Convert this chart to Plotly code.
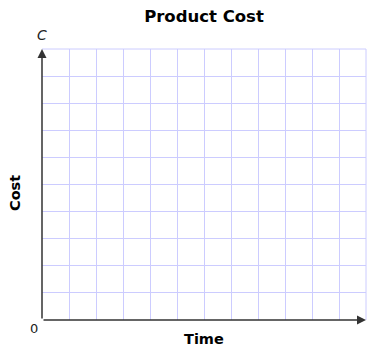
import plotly.graph_objects as go

title_text = "Product Cost"
x_label = "Time"
y_label = "Cost"
y_axis_symbol = "C"
origin_label = "0"
x_ticks = list(range(0, 13))
y_ticks = list(range(0, 11))

W, H = 374, 348
L, R, T, B = 42, 8, 49, 28
pw, ph = W - L - R, H - T - B

def px_x(p):
    return (p - L) / pw

def px_y(p):
    return (H - B - p) / ph

fig = go.Figure()
fig.add_trace(go.Scatter(x=[x_ticks[0], x_ticks[-1]], y=[y_ticks[0], y_ticks[-1]],
                         mode="markers", marker=dict(opacity=0), hoverinfo="skip", showlegend=False))

grid_col = "#ccccff"
font_family = "DejaVu Sans, Verdana, sans-serif"
axis_common = dict(showgrid=True, gridcolor=grid_col, gridwidth=1, zeroline=False,
                   showticklabels=False, ticks="", showline=False)
fig.update_layout(
    width=W, height=H, margin=dict(l=L, r=R, t=T, b=B),
    paper_bgcolor="white", plot_bgcolor="white",
    font=dict(family=font_family, color="black"),
    title=dict(text="<b>" + title_text + "</b>", x=(204 / W), xanchor="center",
               y=1 - 16 / H, yanchor="middle", font=dict(size=16.5, family=font_family)),
    xaxis=dict(range=[x_ticks[0], x_ticks[-1]], tickvals=x_ticks, **axis_common),
    yaxis=dict(range=[y_ticks[0], y_ticks[-1]], tickvals=y_ticks, **axis_common),
)

# grid lines at the far ends of the ranges (plotly drops these)
fig.add_shape(type="line", xref="paper", yref="paper", x0=0, x1=1, y0=1, y1=1,
              line=dict(color=grid_col, width=1), layer="below")
fig.add_shape(type="line", xref="paper", yref="paper", x0=1, x1=1, y0=0, y1=1,
              line=dict(color=grid_col, width=1), layer="below")

arrow_col = "#333333"
# y axis arrow
fig.add_annotation(x=x_ticks[0], y=y_ticks[-1], ax=x_ticks[0], ay=y_ticks[0],
                   xref="x", yref="y", axref="x", ayref="y", text="", showarrow=True,
                   arrowhead=2, arrowsize=1.2, arrowwidth=1.5, arrowcolor=arrow_col)
# x axis arrow
fig.add_annotation(x=x_ticks[-1], y=y_ticks[0], ax=x_ticks[0], ay=y_ticks[0],
                   xref="x", yref="y", axref="x", ayref="y", text="", showarrow=True,
                   arrowhead=2, arrowsize=1.2, arrowwidth=1.5, arrowcolor=arrow_col)

fig.add_annotation(x=px_x(42), y=px_y(35), xref="paper", yref="paper", text="<i>" + y_axis_symbol + "</i>",
                   showarrow=False, xanchor="center", yanchor="middle", font=dict(size=14, color="#222"))
fig.add_annotation(x=px_x(34), y=px_y(328), xref="paper", yref="paper", text=origin_label,
                   showarrow=False, xanchor="center", yanchor="middle", font=dict(size=13, color="#222"))
fig.add_annotation(x=px_x(204), y=px_y(339), xref="paper", yref="paper", text="<b>" + x_label + "</b>",
                   showarrow=False, xanchor="center", yanchor="middle", font=dict(size=14.5))
fig.add_annotation(x=px_x(15), y=px_y(193), xref="paper", yref="paper", text="<b>" + y_label + "</b>",
                   showarrow=False, xanchor="center", yanchor="middle", textangle=-90, font=dict(size=14.5))

fig.write_html("out.html", config={"displayModeBar": False})
with open("out.html", "r", encoding="utf-8") as f:
    html = f.read()
html = html.replace("<head>", "<head><style>html,body{margin:0;padding:0;overflow:hidden;}</style>", 1)
with open("out.html", "w", encoding="utf-8") as f:
    f.write(html)
